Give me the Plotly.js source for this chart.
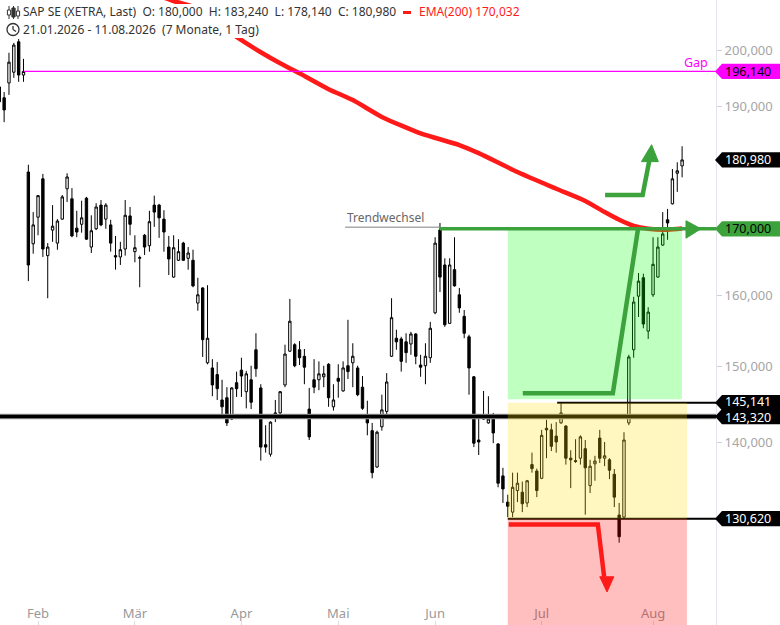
<!DOCTYPE html>
<html><head><meta charset="utf-8">
<script src="https://cdn.plot.ly/plotly-3.0.1.min.js"></script>
<style>html,body{margin:0;padding:0;background:#fff}</style>
</head><body><div id="chart" style="width:780px;height:625px"></div>
<script>
// ---- trading days (XETRA) 21.01.2026 - 11.08.2026 ----
const holidays = ['2026-04-03','2026-04-06','2026-05-01'];
const dates = [];
for (let d = new Date(Date.UTC(2026,0,21)); d <= new Date(Date.UTC(2026,7,11)); d.setUTCDate(d.getUTCDate()+1)) {
  const wd = d.getUTCDay(); const s = d.toISOString().slice(0,10);
  if (wd === 0 || wd === 6 || holidays.includes(s)) continue;
  dates.push(s);
}

// ---- OHLC series ----
const open = [193.4,191.5,194.1,196.0,201.5,195.5,179.0,167.7,171.8,177.9,
165.9,169.8,167.8,171.5,176.3,174.7,170.1,170.7,174.8,167.2,
170.0,173.7,171.5,170.6,165.9,165.7,166.9,172.0,166.5,165.5,
169.0,167.4,173.7,173.7,171.5,167.2,162.7,165.2,167.8,165.5,
165.2,158.9,161.1,150.5,149.8,148.9,145.5,145.8,143.0,147.8,
149.5,146.6,148.2,152.3,147.1,139.7,138.5,143.8,143.8,147.5,
152.1,153.0,152.3,151.4,144.3,148.2,148.2,148.6,150.3,144.6,
148.4,146.7,150.1,150.5,149.8,147.2,143.0,141.5,136.9,142.0,
144.0,151.4,153.9,153.8,153.4,153.1,154.5,150.2,150.1,151.2,
157.5,169.8,164.5,156.0,163.8,160.1,157.0,154.1,148.6,140.3,
143.0,142.5,143.5,139.8,135.8,132.6,131.4,134.0,133.8,132.5,
137.2,136.4,135.5,141.8,141.6,140.8,142.5,142.1,138.0,137.7,
138.0,139.2,134.6,137.3,140.55,138.0,137.8,136.0,131.05,130.8,
142.5,152.3,159.9,162.6,154.9,160.1,162.7,167.5,171.4,173.9,
178.8,180.0];
const high = [194.3,192.5,199.5,201.3,202.0,198.4,180.2,172.6,175.3,178.7,
167.8,173.7,171.5,175.3,178.8,176.4,172.8,174.4,175.0,172.1,
174.0,174.5,174.0,171.4,168.9,168.0,174.5,173.4,169.0,165.9,
169.2,172.8,175.2,173.9,172.9,168.9,169.0,168.4,168.0,167.2,
166.8,162.6,161.2,161.5,151.0,150.6,148.2,147.2,147.2,149.3,
151.2,149.4,150.1,154.6,147.6,142.2,142.7,145.5,146.7,153.0,
159.5,153.2,153.5,152.4,147.1,151.0,150.7,150.1,150.45,147.6,
150.3,150.7,156.5,153.2,150.1,148.7,145.4,142.5,141.5,146.2,
149.1,159.6,155.1,154.1,154.6,154.8,154.6,151.6,153.2,156.2,
168.7,170.9,165.5,165.5,168.7,161.1,157.9,154.4,148.7,143.1,
146.7,146.0,143.8,139.9,136.8,133.5,136.2,136.2,135.1,135.3,
138.7,136.7,141.6,142.9,142.4,142.6,145.141,142.2,139.0,140.4,
140.9,140.3,137.8,138.3,141.6,140.05,138.0,136.65,132.5,141.3,
151.6,159.8,163.3,163.2,158.3,168.7,168.7,172.6,173.1,179.5,
180.6,183.24];
const low = [189.0,187.3,192.0,195.0,194.3,194.3,162.1,166.2,169.0,165.7,
159.6,168.0,166.8,171.4,174.2,168.7,168.7,169.4,168.3,166.3,
169.8,170.4,170.0,166.5,163.8,164.5,165.9,169.0,164.9,161.2,
166.0,166.5,170.3,168.6,166.5,163.0,162.6,165.1,165.1,163.8,
161.2,157.8,151.3,150.3,146.0,145.5,143.4,142.1,142.9,145.9,
145.9,144.4,144.3,148.6,137.7,138.7,138.2,142.6,143.1,147.2,
152.0,149.9,150.2,147.6,140.3,146.4,146.8,147.2,144.6,144.1,
145.8,146.6,148.3,147.2,146.0,144.2,140.9,135.5,136.8,141.5,
143.5,151.3,152.3,149.3,150.5,151.6,150.3,148.6,147.6,150.5,
157.3,160.5,155.5,155.9,161.3,157.5,153.9,146.2,139.4,138.4,
142.9,142.4,139.9,134.4,132.5,130.8,130.8,132.6,131.4,132.0,
136.2,133.2,135.4,138.0,138.9,138.7,142.4,137.2,134.3,137.4,
137.2,131.1,133.7,135.2,137.4,137.0,135.4,132.0,127.8,130.7,
142.2,151.2,156.9,155.3,153.8,159.8,162.6,167.4,168.3,173.8,
175.8,178.14];
const close = [190.8,189.4,197.8,200.9,195.5,196.14,164.5,170.6,175.2,166.9,
167.2,170.4,171.2,175.0,178.2,168.9,169.5,171.7,168.4,169.7,
173.4,170.6,173.7,167.8,165.7,166.8,172.1,170.7,167.1,165.6,
167.2,171.1,172.6,171.7,169.5,165.4,167.1,166.5,165.2,166.3,
161.4,160.1,153.7,153.9,147.5,147.0,144.6,142.5,147.1,147.0,
148.7,149.0,145.2,149.7,139.4,139.4,142.6,143.4,146.6,151.7,
156.3,150.1,151.2,149.9,140.7,147.2,149.0,149.0,145.8,145.5,
148.0,149.8,149.3,151.4,146.2,144.4,142.5,136.2,141.3,144.2,
147.9,156.8,153.4,150.7,151.9,154.5,151.4,149.9,151.4,155.3,
167.8,162.7,155.8,164.5,161.4,158.2,154.6,149.8,139.9,140.05,
143.3,143.0,141.2,134.9,134.2,132.1,134.4,134.9,132.4,135.2,
136.7,134.0,140.9,141.6,139.5,140.05,143.8,138.0,137.8,137.6,
140.7,136.8,137.0,137.65,138.0,138.3,136.5,133.2,128.5,140.3,
151.3,159.05,162.1,155.9,157.6,164.6,167.2,169.2,170.9,177.9,
179.2,180.98];

// ---- EMA(200) read at sample days ----
const emaIdx = [33,36,40,45,49,54,58,62,68,73,79,87,95,99,107,115,121,125,128,131,134,138,141];
const emaVal = [210.1,209.1,208.0,205.0,202.4,199.6,197.6,195.8,193.0,191.1,188.2,185.4,183.45,182.1,179.0,176.3,174.35,172.6,171.4,170.45,170.0,169.85,170.032];

// ---- month ticks / price ticks ----
const monthDates = ['2026-02-02','2026-03-02','2026-04-01','2026-05-04','2026-06-01','2026-07-01','2026-08-03'];
const monthLabels = ['Feb','Mär','Apr','Mai','Jun','Jul','Aug'];
const priceTicks = [120,140,150,160,190,200,210];

// ---- drawn levels & annotations (day index / price) ----
const gapLevel = 196.14, gapStart = 5.1;
const supportLevel = 143.32;
const highLevel = 145.141, highStart = 115.2;
const lowLevel = 130.62;
const targetLevel = 170.0, targetStart = 91;
const trendLevel = 170.25, trendStart = 71.4;
const zoneStart = 105, greenZoneEnd = 140.95, zoneEnd = 142, greenZoneLow = 145.6, zoneBottom = 100;
const greenPathX = [108.1,126.7,131.9], greenPathY = [146.4,146.4,170.0];
const upArrowX = [125.1,132.85,134.25], upArrowY = [175.3,175.3,180.97];
const upHeadX = [132.6,134.7,136.1], upHeadY = [180.7,183.5,180.7];
const downArrowX = [105.2,123.6,124.9], downArrowY = [129.93,129.93,123.9];
const downHeadX = [124.0,125.5,126.9], downHeadY = [123.9,122.2,123.9];
const rightHeadX = [141.8,144.9,141.8], rightHeadY = [171.25,170.0,168.55];

const Y_RANGE = [2.07403, 2.32077];
const X_RANGE = [0.145, 148.0];
const W = 716, H = 625;
const px = x => x / W, pp = y => 1 - y / H;
const py = v => (Math.log10(v) - Y_RANGE[0]) / (Y_RANGE[1] - Y_RANGE[0]);
const fmt = v => v.toFixed(3).replace('.', ',');
const last = close.length - 1;
const SP = '\u00a0\u00a0';

const GREEN = '#3ca23c', RED = '#ff1a1a';
const pathOf = (xs, ys, closeIt) => xs.map((x,i)=>(i?'L':'M')+x+','+ys[i]).join(' ') + (closeIt?' Z':'');

const shapes = [];
// header white boxes
shapes.push({type:'rect',xref:'paper',yref:'paper',x0:px(3),x1:px(520),y0:pp(21),y1:pp(4),fillcolor:'#fff',line:{width:0},layer:'above'});
shapes.push({type:'rect',xref:'paper',yref:'paper',x0:px(3),x1:px(263),y0:pp(38),y1:pp(21),fillcolor:'#fff',line:{width:0},layer:'above'});
// lines under zones
shapes.push({type:'line',xref:'x',yref:'y',x0:gapStart,x1:X_RANGE[1]+2,y0:gapLevel,y1:gapLevel,line:{color:'#ff00ff',width:1.2},layer:'above'});
shapes.push({type:'line',xref:'x',yref:'y',x0:-1,x1:X_RANGE[1]+2,y0:supportLevel,y1:supportLevel,line:{color:'#9a9a9a',width:5.5},layer:'above'});
shapes.push({type:'line',xref:'x',yref:'y',x0:-1,x1:X_RANGE[1]+2,y0:supportLevel,y1:supportLevel,line:{color:'#000',width:3.5},layer:'above'});
shapes.push({type:'line',xref:'x',yref:'y',x0:highStart,x1:X_RANGE[1]+2,y0:highLevel,y1:highLevel,line:{color:'#000',width:2},layer:'above'});
shapes.push({type:'line',xref:'x',yref:'y',x0:zoneStart,x1:X_RANGE[1]+2,y0:lowLevel,y1:lowLevel,line:{color:'#000',width:2},layer:'above'});
shapes.push({type:'line',xref:'x',yref:'y',x0:trendStart,x1:targetStart,y0:trendLevel,y1:trendLevel,line:{color:'#808080',width:1},layer:'above'});
// zones
shapes.push({type:'rect',xref:'x',yref:'y',x0:zoneStart,x1:greenZoneEnd,y0:greenZoneLow,y1:targetLevel,fillcolor:'rgba(0,255,0,0.25)',line:{width:0},layer:'above'});
shapes.push({type:'rect',xref:'x',yref:'y',x0:zoneStart,x1:zoneEnd,y0:lowLevel,y1:highLevel,fillcolor:'rgba(255,225,0,0.25)',line:{width:0},layer:'above'});
shapes.push({type:'rect',xref:'x',yref:'y',x0:zoneStart,x1:zoneEnd,y0:zoneBottom,y1:lowLevel,fillcolor:'rgba(255,0,0,0.25)',line:{width:0},layer:'above'});
// target line + arrows
shapes.push({type:'line',xref:'x',yref:'y',x0:targetStart,x1:X_RANGE[1]+2,y0:targetLevel,y1:targetLevel,line:{color:GREEN,width:3.5},layer:'above'});
shapes.push({type:'path',xref:'x',yref:'y',path:pathOf(rightHeadX,rightHeadY,true),fillcolor:GREEN,line:{color:GREEN,width:1},layer:'above'});
shapes.push({type:'path',xref:'x',yref:'y',path:pathOf(greenPathX,greenPathY,false),line:{color:GREEN,width:4.5},layer:'above'});
shapes.push({type:'path',xref:'x',yref:'y',path:pathOf(upArrowX,upArrowY,false),line:{color:GREEN,width:4.5},layer:'above'});
shapes.push({type:'path',xref:'x',yref:'y',path:pathOf(upHeadX,upHeadY,true),fillcolor:GREEN,line:{color:GREEN,width:1},layer:'above'});
shapes.push({type:'path',xref:'x',yref:'y',path:pathOf(downArrowX,downArrowY,false),line:{color:RED,width:4.5},layer:'above'});
shapes.push({type:'path',xref:'x',yref:'y',path:pathOf(downHeadX,downHeadY,true),fillcolor:RED,line:{color:RED,width:1},layer:'above'});

// price tags
const tags = [
  {v: gapLevel, bg:'#ff00ff', fg:'#000', s:0},
  {v: close[last], bg:'#000', fg:'#fff', s:0},
  {v: targetLevel, bg:GREEN, fg:'#000', s:0},
  {v: highLevel, bg:'#000', fg:'#fff', s:1},
  {v: supportLevel, bg:'#000', fg:'#fff', s:-1},
  {v: lowLevel, bg:'#000', fg:'#fff', s:0}
];
const annotations = [];
const hh = 7.6 / H;
tags.forEach(t => {
  const y = py(t.v);
  shapes.push({type:'path',xref:'paper',yref:'paper',
    path:`M${px(715)},${y} L${px(722)},${y+hh} L${px(781)},${y+hh} L${px(781)},${y-hh} L${px(722)},${y-hh} Z`,
    fillcolor:t.bg,line:{width:0},layer:'above'});
  annotations.push({xref:'paper',yref:'paper',x:px(724),y:y,xanchor:'left',yanchor:'middle',showarrow:false,yshift:t.s,
    text:fmt(t.v),font:{family:'Noto Sans',size:12.5,color:t.fg},borderpad:0});
});

// header icons
[[9,10,15,false],[13.5,8,17,true],[18,11,16,false]].forEach(([x,b0,b1,f])=>{
  shapes.push({type:'line',xref:'paper',yref:'paper',x0:px(x),x1:px(x),y0:pp(6),y1:pp(19),line:{color:'#333',width:1},layer:'above'});
  shapes.push({type:'rect',xref:'paper',yref:'paper',x0:px(x-1.6),x1:px(x+1.6),y0:pp(b1),y1:pp(b0),fillcolor:f?'#333':'#fff',line:{color:'#333',width:1},layer:'above'});
});
shapes.push({type:'circle',xref:'paper',yref:'paper',x0:px(7),x1:px(19),y0:pp(35.5),y1:pp(23.5),line:{color:'#333',width:1.3},layer:'above'});
shapes.push({type:'line',xref:'paper',yref:'paper',x0:px(13),x1:px(13),y0:pp(29.5),y1:pp(26),line:{color:'#333',width:1.3},layer:'above'});
shapes.push({type:'line',xref:'paper',yref:'paper',x0:px(13),x1:px(16),y0:pp(29.5),y1:pp(31.5),line:{color:'#333',width:1.3},layer:'above'});
shapes.push({type:'line',xref:'paper',yref:'paper',x0:px(403),x1:px(411),y0:pp(12.5),y1:pp(12.5),line:{color:RED,width:3},layer:'above'});

const hf = {family:'Noto Sans',size:12,color:'#333'};
const head = (x,y,text,color)=>annotations.push({xref:'paper',yref:'paper',x:px(x),y:pp(y),xanchor:'left',yanchor:'middle',showarrow:false,text:text,
  font:Object.assign({},hf,color?{color:color}:{}),borderpad:0});
head(22,12,'SAP SE (XETRA, Last)'+SP+'O: '+fmt(open[last])+SP+'H: '+fmt(high[last])+SP+'L: '+fmt(low[last])+SP+'C: '+fmt(close[last]));
head(418,12,'EMA(200) '+fmt(emaVal[emaVal.length-1]),RED);
head(22,29.5,'21.01.2026 - 11.08.2026'+SP+'(7 Monate, 1 Tag)');
// labels
annotations.push({xref:'x',yref:'y',x:trendStart+0.2,y:Math.log10(171.7),xanchor:'left',yanchor:'middle',showarrow:false,text:'Trendwechsel',
  font:{family:'Noto Sans',size:12,color:'#666'},borderpad:0});
annotations.push({xref:'x',yref:'y',x:146.5,y:Math.log10(197.7),xanchor:'right',yanchor:'middle',showarrow:false,text:'Gap',
  font:{family:'Noto Sans',size:12.5,color:'#ff00ff'},borderpad:0});

const traces = [
  {type:'candlestick', x:dates, open:open, high:high, low:low, close:close,
   increasing:{line:{color:'#000',width:1},fillcolor:'#fff'},
   decreasing:{line:{color:'#000',width:1},fillcolor:'#000'},
   whiskerwidth:0, hoverinfo:'skip', showlegend:false},
  {type:'scatter', mode:'lines', x:emaIdx.map(i=>dates[i]), y:emaVal,
   line:{color:RED,width:4.5,shape:'spline',smoothing:0.6}, hoverinfo:'skip', showlegend:false}
];

const layout = {
  width:780, height:625, margin:{l:0,r:64,t:0,b:0},
  paper_bgcolor:'#fff', plot_bgcolor:'#fff', showlegend:false, hovermode:false, dragmode:false,
  separators:',.',
  font:{family:'Noto Sans'},
  xaxis:{type:'category', range:X_RANGE, rangeslider:{visible:false}, showgrid:false, zeroline:false, showline:false,
    tickmode:'array', tickvals:monthDates, ticktext:monthLabels, ticks:'inside', ticklen:4, tickcolor:'#ddd',
    ticklabelposition:'inside', tickfont:{family:'Noto Sans',size:13,color:'#999'}},
  yaxis:{type:'log', side:'right', range:Y_RANGE, showgrid:false, zeroline:false, showline:true, linecolor:'#e4e4ec', linewidth:1,
    tickmode:'array', tickvals:priceTicks, tickformat:'.3f',
    ticks:'outside', ticklen:5, tickcolor:'#d0d0d8', tickfont:{family:'Noto Sans',size:13,color:'#a6a6a6'}},
  shapes:shapes, annotations:annotations
};
Plotly.newPlot('chart', traces, layout, {displayModeBar:false, staticPlot:true});
</script></body></html>
